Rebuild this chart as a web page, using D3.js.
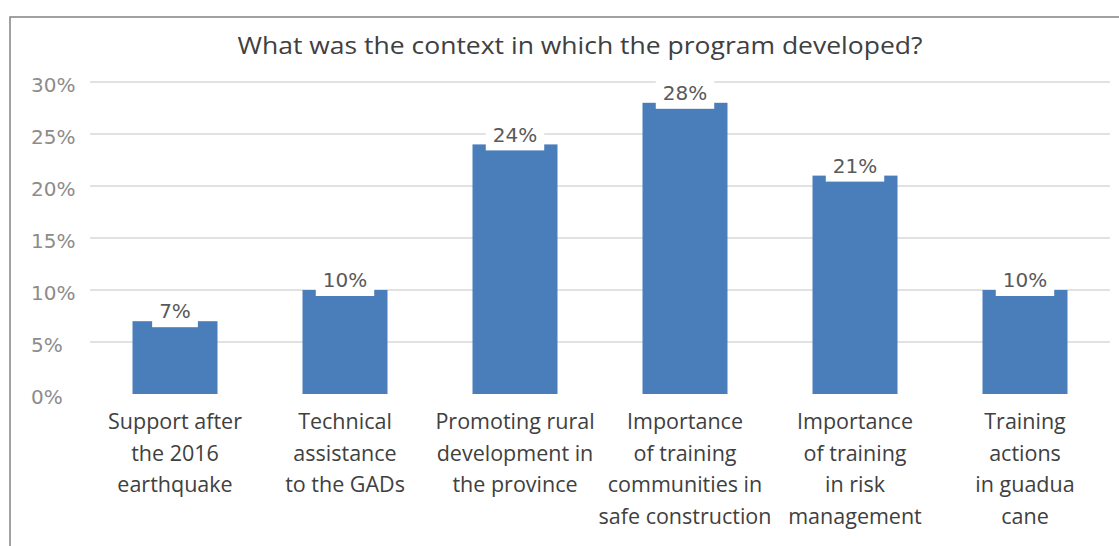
<!DOCTYPE html>
<html>
<head>
<meta charset="utf-8">
<script src="https://cdn.jsdelivr.net/npm/d3@7"></script>
<style>
  html, body { margin: 0; padding: 0; background: #fff; }
  svg { display: block; }
</style>
</head>
<body>
<svg id="chart" width="1119" height="546"></svg>
<script>
// Context in which the program developed (share of responses, %)
const categories = [
  ["Support after", "the 2016", "earthquake"],
  ["Technical", "assistance", "to the GADs"],
  ["Promoting rural", "development in", "the province"],
  ["Importance", "of training", "communities in", "safe construction"],
  ["Importance", "of training", "in risk", "management"],
  ["Training", "actions", "in guadua", "cane"]
];
const values = [7, 10, 24, 28, 21, 10];
const yTicks = [0, 5, 10, 15, 20, 25, 30];
const title = "What was the context in which the program developed?";

const svg = d3.select("#chart");

// outer frame (runs off the right and bottom edges)
svg.append("rect")
  .attr("x", 10).attr("y", 17)
  .attr("width", 1300).attr("height", 700)
  .attr("fill", "#fff")
  .attr("stroke", "#8a8a8a")
  .attr("stroke-width", 1.6);

const x = d3.scaleBand()
  .domain(d3.range(categories.length))
  .range([90, 1110])
  .paddingInner(0.5)
  .paddingOuter(0.25);

const y = d3.scaleLinear()
  .domain([0, 30])
  .range([394, 82]);

// title
svg.append("text")
  .attr("x", 580).attr("y", 54)
  .attr("text-anchor", "middle")
  .attr("font-family", "'Open Sans', Lato, sans-serif")
  .attr("font-size", 24)
  .attr("fill", "#404040")
  .attr("textLength", 685)
  .attr("lengthAdjust", "spacingAndGlyphs")
  .text(title);

// horizontal gridlines
svg.append("g")
  .selectAll("line")
  .data(yTicks.filter(d => d > 0))
  .join("line")
  .attr("x1", 90).attr("x2", 1110)
  .attr("y1", d => y(d)).attr("y2", d => y(d))
  .attr("stroke", "#d9d9d9")
  .attr("stroke-width", 1.5);

// y tick labels, left-aligned
svg.append("g")
  .selectAll("text")
  .data(yTicks)
  .join("text")
  .attr("x", 31)
  .attr("y", d => y(d) + 10)
  .attr("font-family", "'DejaVu Sans', sans-serif")
  .attr("font-size", 20)
  .attr("fill", "#8c8c8c")
  .text(d => d + "%");

// bars
svg.append("g")
  .selectAll("rect")
  .data(values)
  .join("rect")
  .attr("x", (d, i) => x(i))
  .attr("y", d => y(d))
  .attr("width", x.bandwidth())
  .attr("height", d => y(0) - y(d))
  .attr("fill", "#4a7ebb");

// value labels on white boxes overlapping the bar tops
const lab = svg.append("g")
  .selectAll("g")
  .data(values)
  .join("g")
  .attr("transform", (d, i) => `translate(${x(i) + x.bandwidth() / 2},${y(d) - 10})`);

const labText = lab.append("text")
  .attr("text-anchor", "middle")
  .attr("dy", "0.36em")
  .attr("font-family", "'DejaVu Sans', sans-serif")
  .attr("font-size", 20)
  .attr("fill", "#595959")
  .text(d => d + "%");

labText.each(function () {
  const w = this.getComputedTextLength();
  d3.select(this.parentNode).insert("rect", "text")
    .attr("x", -w / 2 - 7)
    .attr("y", -18)
    .attr("width", w + 14)
    .attr("height", 34)
    .attr("fill", "#fff");
});

// category labels (multi-line)
const cat = svg.append("g")
  .selectAll("text")
  .data(categories)
  .join("text")
  .attr("text-anchor", "middle")
  .attr("font-family", "'Open Sans', Lato, sans-serif")
  .attr("font-size", 21.5)
  .attr("fill", "#404040")
  .attr("transform", (d, i) => `translate(${x(i) + x.bandwidth() / 2},429)`);

cat.selectAll("tspan")
  .data(d => d)
  .join("tspan")
  .attr("x", 0)
  .attr("y", (d, j) => j * 31.5)
  .text(d => d);
</script>
</body>
</html>
